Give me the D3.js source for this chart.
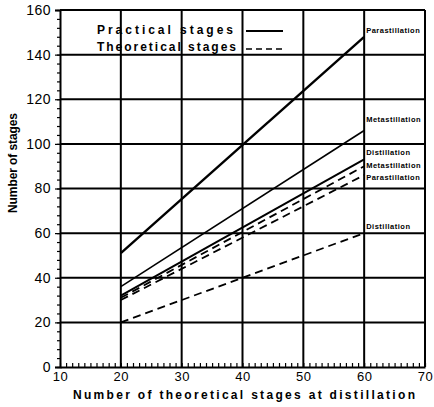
<html>
  <head>
    <title>Number of stages</title>
    <script src="https://d3js.org/d3.v7.min.js"></script>
    <style type="text/css">
      body { margin: 0; background: #fff; }
      text { font-family: "Liberation Sans", Arial, sans-serif; fill: #000; }
      .title { font-weight: bold; font-size: 12px; }
      .endlabel { font-weight: bold; font-size: 7.5px; letter-spacing: 0.5px; }
    </style>
  </head>
  <body>
    <svg id="chart" width="434" height="407"></svg>

    <script type="text/javascript">
      // theoretical stages at distillation (x) where each line starts and ends
      var xStages = [20, 60];

      // practical stages (solid)
      var practicalPara = [51, 148];
      var practicalMeta = [36, 106];
      var practicalDist = [32, 93];

      // theoretical stages (dashed)
      var theoreticalMeta = [31, 90];
      var theoreticalPara = [30, 86];
      var theoreticalDist = [20, 60];

      // labels at the right of the plot and the value they sit at
      var endLabels = ["Parastillation", "Metastillation", "Distillation", "Metastillation", "Parastillation", "Distillation"];
      var endLabelAt = [151, 111, 96, 90.5, 85, 63];

      var xTicks = [10, 20, 30, 40, 50, 60, 70];
      var yTicks = [0, 20, 40, 60, 80, 100, 120, 140, 160];

      var series = [
        { values: practicalPara, dashed: false, width: 2.4 },
        { values: practicalMeta, dashed: false, width: 1.6 },
        { values: practicalDist, dashed: false, width: 2 },
        { values: theoreticalMeta, dashed: true, width: 1.8 },
        { values: theoreticalPara, dashed: true, width: 1.8 },
        { values: theoreticalDist, dashed: true, width: 1.8 }
      ];

      var svg = d3.select("#chart");

      var x = d3.scaleLinear().domain([10, 70]).range([60, 425]);
      var y = d3.scaleLinear().domain([0, 160]).range([367, 10]);

      // grid
      svg.append("g").selectAll("line")
        .data(xTicks.slice(1))
        .enter().append("line")
        .attr("x1", function(d) { return x(d); })
        .attr("x2", function(d) { return x(d); })
        .attr("y1", y(0))
        .attr("y2", y(160))
        .attr("stroke", "#000")
        .attr("stroke-width", 2);

      svg.append("g").selectAll("line")
        .data(yTicks.slice(1))
        .enter().append("line")
        .attr("x1", x(10))
        .attr("x2", x(70))
        .attr("y1", function(d) { return y(d); })
        .attr("y2", function(d) { return y(d); })
        .attr("stroke", "#000")
        .attr("stroke-width", 2);

      // minor ticks
      svg.append("g")
        .attr("transform", "translate(0," + y(0) + ")")
        .call(d3.axisTop(x).ticks(60).tickSize(4).tickFormat(""))
        .call(function(g) { g.select(".domain").remove(); });

      svg.append("g")
        .attr("transform", "translate(" + x(10) + ",0)")
        .call(d3.axisLeft(y).tickValues(d3.range(0, 161, 4)).tickSize(3).tickFormat(""))
        .call(function(g) { g.select(".domain").remove(); });

      // axes
      var xAxis = svg.append("g")
        .attr("transform", "translate(0," + y(0) + ")")
        .call(d3.axisBottom(x).tickValues(xTicks).tickSize(0).tickPadding(5));
      xAxis.select(".domain").attr("stroke-width", 2);

      var yAxis = svg.append("g")
        .attr("transform", "translate(" + x(10) + ",0)")
        .call(d3.axisLeft(y).tickValues(yTicks).tickSize(5).tickPadding(4));
      yAxis.select(".domain").attr("stroke-width", 2);
      yAxis.selectAll(".tick text").attr("font-size", 14).attr("letter-spacing", "0.5px");
      xAxis.selectAll(".tick text").attr("font-size", 13).attr("letter-spacing", "0.5px");

      svg.selectAll(".tick line").attr("stroke-width", 1.2);

      // data lines
      var line = d3.line()
        .x(function(d, i) { return x(xStages[i]); })
        .y(function(d) { return y(d); });

      svg.append("g").selectAll("path")
        .data(series)
        .enter().append("path")
        .attr("d", function(s) { return line(s.values); })
        .attr("fill", "none")
        .attr("stroke", "#000")
        .attr("stroke-width", function(s) { return s.width; })
        .attr("stroke-dasharray", function(s) { return s.dashed ? "8,5" : null; });

      // right-hand labels
      svg.append("g").selectAll("text")
        .data(endLabels)
        .enter().append("text")
        .attr("class", "endlabel")
        .attr("x", x(60) + 2)
        .attr("y", function(d, i) { return y(endLabelAt[i]) + 2.5; })
        .text(function(d) { return d; });

      // legend
      var legend = svg.append("g");
      legend.append("text").attr("class", "title")
        .attr("x", 97).attr("y", 34)
        .attr("font-size", 13)
        .attr("textLength", 136).attr("lengthAdjust", "spacing")
        .text("Practical stages");
      legend.append("text").attr("class", "title")
        .attr("x", 97).attr("y", 51)
        .attr("font-size", 13)
        .attr("textLength", 139).attr("lengthAdjust", "spacing")
        .text("Theoretical stages");
      legend.append("line")
        .attr("x1", 246).attr("x2", 283).attr("y1", 31).attr("y2", 31)
        .attr("stroke", "#000").attr("stroke-width", 1.8);
      legend.append("line")
        .attr("x1", 246).attr("x2", 286).attr("y1", 49).attr("y2", 49)
        .attr("stroke", "#000").attr("stroke-width", 1.5)
        .attr("stroke-dasharray", "6,4");

      // axis titles
      svg.append("text").attr("class", "title")
        .attr("x", 73).attr("y", 399)
        .attr("textLength", 342).attr("lengthAdjust", "spacing")
        .text("Number of theoretical stages at distillation");

      svg.append("text").attr("class", "title")
        .attr("transform", "translate(17,163) rotate(-90)")
        .attr("text-anchor", "middle")
        .attr("textLength", 100).attr("lengthAdjust", "spacing")
        .text("Number of stages");
    </script>
  </body>
</html>
